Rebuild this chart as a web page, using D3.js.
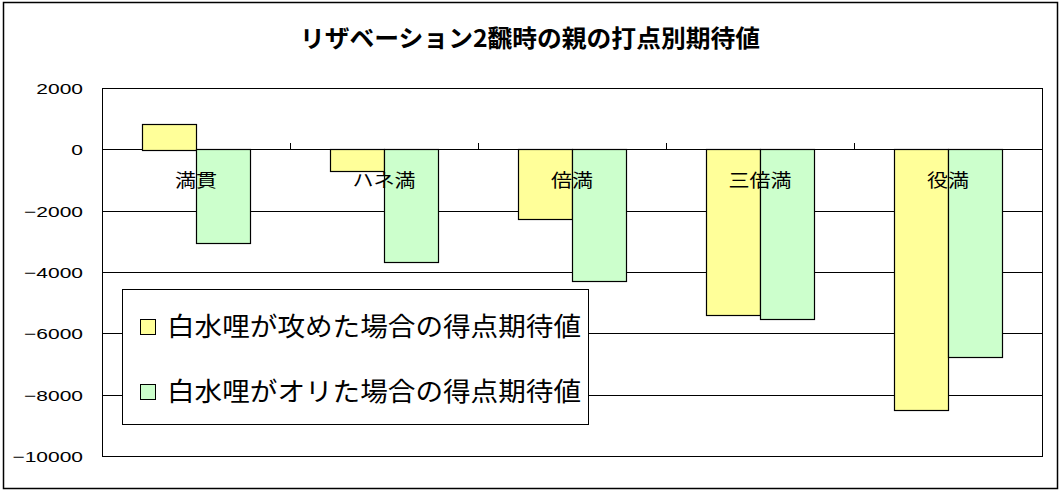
<!DOCTYPE html>
<html>
<head>
<meta charset="utf-8">
<script src="https://cdn.jsdelivr.net/npm/d3@7"></script>
<style>
  body { margin: 0; background: #fff; }
  svg { display: block; }
</style>
</head>
<body>
<div id="chart"></div>
<script>
//Chart data
var categories = ["満貫", "ハネ満", "倍満", "三倍満", "役満"];
var seriesNames = ["白水哩が攻めた場合の得点期待値", "白水哩がオリた場合の得点期待値"];
var attackValues = [840, -720, -2280, -5410, -8500];
var foldValues = [-3070, -3690, -4300, -5540, -6770];
var yTicks = [2000, 0, -2000, -4000, -6000, -8000, -10000];
var seriesColors = ["#FFFF99", "#CCFFCC"];
var title = "リザベーション2飜時の親の打点別期待値";

//Chart dimensions
var width = 1060,
  height = 492;
var plot = { left: 102, right: 1042, top: 88, bottom: 456 };

var svg = d3
  .select("#chart")
  .append("svg")
  .attr("width", width)
  .attr("height", height);

//Outer frame
svg
  .append("rect")
  .attr("x", 3.5)
  .attr("y", 2.5)
  .attr("width", 1054)
  .attr("height", 486)
  .attr("fill", "#fff")
  .attr("stroke", "#000")
  .attr("stroke-width", 1.5);

//Title
svg
  .append("text")
  .attr("x", 300)
  .attr("y", 47)
  .attr("textLength", 460)
  .attr("lengthAdjust", "spacingAndGlyphs")
  .style("font-family", "'Noto Sans CJK JP', sans-serif")
  .style("font-weight", "bold")
  .style("font-size", "24px")
  .text(title);

//Scales
var x = d3.scaleBand().domain(categories).range([plot.left, plot.right]);
var bw = x.bandwidth();
var gap = (bw * 0.75) / 3.5;
var xSeries = d3.scaleBand().domain([0, 1]).range([gap, bw - gap]);
var y = d3.scaleLinear().domain([-10000, 2000]).range([plot.bottom, plot.top]);

//Gridlines
svg
  .append("g")
  .selectAll("line")
  .data(yTicks)
  .enter()
  .append("line")
  .attr("x1", plot.left)
  .attr("x2", plot.right)
  .attr("y1", (d) => Math.round(y(d)) + 0.5)
  .attr("y2", (d) => Math.round(y(d)) + 0.5)
  .attr("stroke", "#000");

//Plot area border
svg
  .append("rect")
  .attr("x", plot.left + 0.5)
  .attr("y", Math.round(y(2000)) + 0.5)
  .attr("width", plot.right - plot.left)
  .attr("height", Math.round(y(-10000)) - Math.round(y(2000)))
  .attr("fill", "none")
  .attr("stroke", "#000");

//Category tick marks on the zero line
svg
  .append("g")
  .selectAll("line")
  .data(categories.slice(1))
  .enter()
  .append("line")
  .attr("x1", (d) => Math.round(x(d)) + 0.5)
  .attr("x2", (d) => Math.round(x(d)) + 0.5)
  .attr("y1", Math.round(y(0)) - 6)
  .attr("y2", Math.round(y(0)))
  .attr("stroke", "#000");

//Bars
var barData = [];
categories.forEach(function (c, i) {
  barData.push({ cat: c, s: 0, value: attackValues[i] });
  barData.push({ cat: c, s: 1, value: foldValues[i] });
});

svg
  .append("g")
  .selectAll("rect")
  .data(barData)
  .enter()
  .append("rect")
  .attr("x", (d) => Math.round(x(d.cat) + xSeries(d.s)) + 0.5)
  .attr("y", (d) => Math.round(y(Math.max(0, d.value))) + 0.5)
  .attr("width", Math.round(xSeries.bandwidth()))
  .attr("height", (d) => Math.round(Math.abs(y(d.value) - y(0))))
  .attr("fill", (d) => seriesColors[d.s])
  .attr("stroke", "#000")
  .attr("stroke-width", 1.2);

//Category labels (drawn over the bars)
svg
  .append("g")
  .selectAll("g")
  .data(categories)
  .enter()
  .append("g")
  .attr("transform", (d) => "translate(" + (x(d) + bw / 2) + ",187) scale(1.17,1)")
  .append("text")
  .attr("text-anchor", "middle")
  .style("font-family", "'Noto Sans CJK JP', sans-serif")
  .style("font-size", "18px")
  .text((d) => d);

//Y axis labels
svg
  .append("g")
  .selectAll("g")
  .data(yTicks)
  .enter()
  .append("g")
  .attr("transform", (d) => "translate(83," + (y(d) + 6) + ") scale(1.4,1)")
  .append("text")
  .attr("text-anchor", "end")
  .style("font-family", "'Liberation Sans', Arial, sans-serif")
  .style("font-size", "15px")
  .text((d) => (d < 0 ? "\u2212" + Math.abs(d) : d));

//Legend
var legend = svg.append("g");
legend
  .append("rect")
  .attr("x", 122.5)
  .attr("y", 289.5)
  .attr("width", 466)
  .attr("height", 135)
  .attr("fill", "#fff")
  .attr("stroke", "#000");

var items = legend
  .selectAll("g")
  .data(seriesNames)
  .enter()
  .append("g")
  .attr("transform", (d, i) => "translate(0," + (327 + i * 65) + ")");

items
  .append("rect")
  .attr("x", 140.5)
  .attr("y", -7.5)
  .attr("width", 15)
  .attr("height", 15)
  .attr("fill", (d, i) => seriesColors[i])
  .attr("stroke", "#000");

items
  .append("text")
  .attr("x", 167)
  .attr("y", 9)
  .attr("textLength", 414)
  .attr("lengthAdjust", "spacingAndGlyphs")
  .style("font-family", "'Noto Sans CJK JP', sans-serif")
  .style("font-size", "26px")
  .text((d) => d);
</script>
</body>
</html>
